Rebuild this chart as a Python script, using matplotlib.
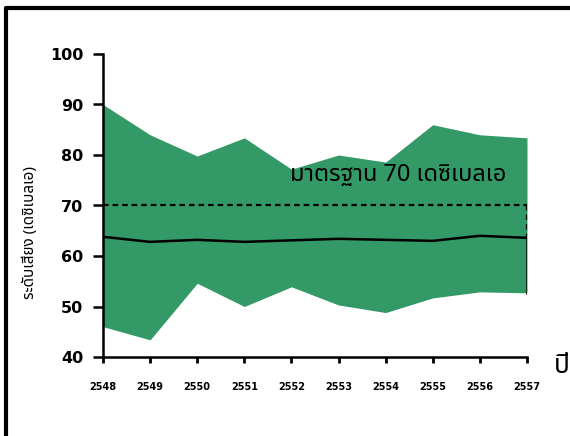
import matplotlib
matplotlib.use("Agg")
import matplotlib.pyplot as plt
from matplotlib.lines import Line2D

years = ["2548", "2549", "2550", "2551", "2552", "2553", "2554", "2555", "2556", "2557"]
upper = [90.0, 84.0, 79.8, 83.4, 77.2, 80.0, 78.6, 86.0, 84.0, 83.4]
lower = [46.0, 43.4, 54.6, 50.0, 53.9, 50.3, 48.8, 51.7, 52.9, 52.7]
mean = [63.8, 62.8, 63.2, 62.8, 63.1, 63.4, 63.2, 63.0, 64.0, 63.6]
standard = 70
yticks = [40, 50, 60, 70, 80, 90, 100]

fig = plt.figure(figsize=(5.7, 4.36), dpi=100)
W, H = 570, 436
ax = fig.add_axes([103 / W, 1 - 357 / H, (527 - 103) / W, (357 - 54) / H])

x = list(range(len(years)))
ax.fill_between(x, lower, upper, color="#339966", linewidth=0, zorder=1)
ax.plot(x, mean, color="black", lw=1.8, zorder=3)
ax.plot([x[-1], x[-1]], [mean[-1], lower[-1]], color="black", lw=1.8, zorder=3)
ax.plot([x[0], x[-1]], [standard, standard], color="black", lw=1.6,
        ls=(0, (2.5, 1.8)), zorder=3)
ax.plot([x[-1], x[-1]], [standard, mean[-1]], color="black", lw=1.6,
        ls=(0, (2.5, 1.8)), zorder=3)

ax.set_xlim(x[0], x[-1])
ax.set_ylim(40, 100)
ax.set_yticks(yticks)
ax.set_yticklabels([str(v) for v in yticks], fontsize=11.5, fontweight="bold")
ax.set_xticks(x)
ax.set_xticklabels(years, fontsize=7, fontweight="bold")
for s in ["top", "right"]:
    ax.spines[s].set_visible(False)
for s in ["left", "bottom"]:
    ax.spines[s].set_linewidth(1.8)
ax.tick_params(axis="y", length=7, width=1.8, pad=7)
ax.tick_params(axis="x", length=4, width=2, pad=14)

thai = ["Noto Sans Thai", "Loma", "Garuda", "Tlwg Typo", "DejaVu Sans"]
ax.text(6.27, 76.0, "มาตรฐาน 70 เดซิเบลเอ", fontsize=17, ha="center",
        va="center", family=thai, zorder=4)
fig.text(30 / W, 1 - 232 / H, "ระดับเสียง (เดซิเบลเอ)", rotation=90,
         fontsize=11, fontweight="bold", ha="center", va="center", family=thai)
fig.text(562 / W, 1 - 366 / H, "ปี", fontsize=19, fontweight="bold",
         ha="center", va="center", family=thai)

# outer frame
fig.add_artist(Line2D([6 / W, 6 / W, 1.0], [0.0, 1 - 8 / H, 1 - 8 / H],
                      transform=fig.transFigure, color="black", lw=3))

fig.savefig("out.png", dpi=100)
